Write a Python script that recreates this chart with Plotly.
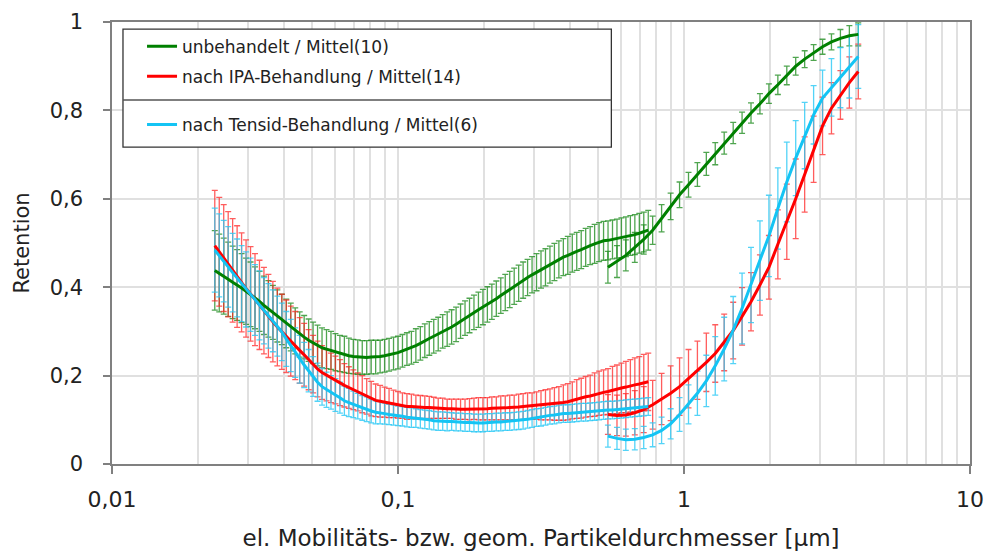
import plotly.graph_objects as go

# Mobility-diameter channels (SMPS, 64 per decade) in µm
x_smps = [
    0.022876, 0.023714, 0.024582, 0.025483, 0.026416, 0.027384, 0.028387,
    0.029427, 0.030505, 0.031623, 0.032781, 0.033982, 0.035227, 0.036517, 0.037855, 0.039242, 0.040679,
    0.042170, 0.043714, 0.045316, 0.046976, 0.048697, 0.050481, 0.052330, 0.054247, 0.056234, 0.058294,
    0.060430, 0.062643, 0.064938, 0.067317, 0.069783, 0.072339, 0.074989, 0.077737, 0.080584, 0.083536,
    0.086596, 0.089769, 0.093057, 0.096466, 0.10000, 0.10366, 0.10746, 0.11140, 0.11548, 0.11971,
    0.12409, 0.12864, 0.13335, 0.13824, 0.14330, 0.14855, 0.15399, 0.15963, 0.16548, 0.17154,
    0.17783, 0.18434, 0.19110, 0.19810, 0.20535, 0.21288, 0.22067, 0.22876, 0.23714, 0.24582,
    0.25483, 0.26416, 0.27384, 0.28387, 0.29427, 0.30505, 0.31623, 0.32781, 0.33982, 0.35227,
    0.36517, 0.37855, 0.39242, 0.40679, 0.42170, 0.43714, 0.45316, 0.46976, 0.48697, 0.50481,
    0.52330, 0.54247, 0.56234, 0.58294, 0.60430, 0.62643, 0.64938, 0.67317, 0.69783, 0.72339,
    0.74989,
]

# Geometric-diameter channels (APS) in µm
x_aps = [
    0.542, 0.583, 0.626, 0.673, 0.723, 0.777, 0.835, 0.898, 0.965, 1.037,
    1.114, 1.197, 1.286, 1.382, 1.486, 1.596, 1.715, 1.843, 1.981, 2.129,
    2.288, 2.458, 2.642, 2.839, 3.051, 3.278, 3.523, 3.786, 4.068,
]

# unbehandelt / Mittel(10)
green_smps = [
    .438, .432, .425, .418, .411, .405, .398,
    .391, .384, .376, .368, .359, .351, .343, .335, .327, .318,
    .310, .301, .293, .287, .280, .274, .268, .263, .260, .257,
    .253, .250, .248, .245, .243, .242, .241, .241, .242, .242,
    .243, .245, .247, .250, .252, .256, .260, .263, .268, .273,
    .279, .284, .289, .294, .300, .305, .310, .316, .323, .330,
    .336, .343, .349, .355, .361, .367, .374, .381, .388, .395,
    .402, .409, .416, .422, .428, .434, .440, .445, .451, .457,
    .463, .468, .472, .477, .481, .485, .490, .494, .498, .502,
    .505, .506, .508, .510, .512, .514, .517, .519, .522, .525,
    .529,
]
green_smps_err = [
    .090, .088, .086, .084, .082, .080, .078,
    .075, .073, .070, .068, .066, .064, .061, .059, .057, .055,
    .054, .052, .051, .049, .048, .047, .046, .045, .044, .043,
    .042, .041, .041, .040, .039, .039, .038, .038, .038, .038,
    .037, .037, .037, .037, .037, .037, .037, .037, .038, .038,
    .038, .038, .038, .038, .038, .039, .039, .039, .039, .039,
    .039, .039, .040, .040, .040, .040, .040, .040, .041, .041,
    .041, .041, .041, .041, .041, .042, .042, .042, .042, .042,
    .042, .042, .043, .043, .043, .043, .043, .043, .044, .044,
    .044, .044, .044, .044, .045, .045, .045, .045, .045, .045,
    .045,
]
green_aps = [
    .445, .458, .472, .490, .508, .529, .556, .583, .609, .632,
    .655, .679, .702, .726, .749, .772, .794, .815, .838, .858,
    .879, .900, .916, .931, .944, .955, .963, .969, .972,
]
green_aps_err = [
    .036, .036, .035, .034, .033, .032, .031, .030, .029, .028,
    .027, .026, .025, .025, .024, .024, .023, .023, .022, .022,
    .021, .020, .019, .018, .017, .018, .020, .023, .026,
]

# nach IPA-Behandlung / Mittel(14)
red_smps = [
    .494, .480, .466, .452, .438, .424, .411,
    .397, .385, .372, .360, .347, .335, .322, .310, .299, .289,
    .278, .268, .257, .247, .236, .226, .215, .207, .201, .195,
    .190, .184, .178, .173, .168, .163, .158, .153, .148, .144,
    .142, .140, .138, .136, .134, .132, .130, .130, .129, .129,
    .128, .128, .127, .126, .126, .125, .125, .124, .124, .124,
    .124, .125, .125, .125, .125, .126, .126, .127, .127, .128,
    .128, .129, .130, .131, .131, .132, .133, .134, .135, .136,
    .137, .139, .141, .144, .147, .149, .152, .154, .157, .160,
    .162, .164, .167, .169, .172, .174, .177, .179, .181, .184,
    .186,
]
red_smps_err = [
    .125, .123, .121, .119, .117, .115, .112,
    .110, .107, .104, .101, .098, .094, .091, .088, .085, .082,
    .079, .077, .074, .071, .068, .065, .063, .061, .058, .056,
    .054, .052, .049, .047, .045, .043, .042, .040, .039, .037,
    .036, .034, .033, .031, .030, .029, .029, .028, .027, .026,
    .026, .025, .024, .023, .023, .022, .022, .023, .023, .023,
    .024, .024, .025, .025, .025, .026, .026, .027, .027, .028,
    .028, .029, .029, .030, .030, .031, .033, .034, .035, .037,
    .038, .040, .041, .042, .044, .045, .046, .047, .049, .050,
    .051, .052, .054, .055, .056, .058, .059, .061, .062, .064,
    .065,
]
red_aps = [
    .112, .110, .111, .116, .123, .134, .147, .160, .175, .193,
    .212, .230, .250, .275, .302, .334, .367, .405, .445, .497,
    .548, .600, .655, .712, .765, .805, .835, .863, .888,
]
red_aps_err = [
    .045, .046, .048, .050, .052, .055, .058, .062, .065, .066,
    .066, .066, .065, .064, .064, .065, .066, .068, .072, .078,
    .085, .090, .085, .075, .065, .058, .055, .058, .062,
]

# nach Tensid-Behandlung / Mittel(6)
cyan_smps = [
    .484, .472, .459, .446, .433, .421, .408,
    .395, .383, .371, .359, .347, .335, .324, .312, .299, .283,
    .268, .252, .237, .224, .211, .198, .185, .175, .168, .162,
    .156, .150, .143, .139, .135, .131, .127, .124, .120, .117,
    .116, .114, .112, .111, .109, .108, .106, .105, .104, .102,
    .101, .100, .098, .097, .097, .096, .096, .095, .095, .094,
    .094, .093, .093, .093, .094, .094, .095, .095, .096, .096,
    .097, .098, .099, .101, .103, .105, .106, .108, .110, .111,
    .113, .114, .114, .115, .116, .117, .117, .118, .119, .120,
    .121, .122, .122, .123, .124, .125, .126, .127, .128, .129,
    .130,
]
cyan_smps_err = [
    .095, .094, .092, .091, .089, .088, .086,
    .085, .083, .080, .078, .075, .073, .070, .068, .065, .062,
    .059, .056, .054, .051, .048, .045, .043, .042, .040, .038,
    .037, .035, .033, .032, .030, .029, .028, .028, .027, .026,
    .025, .024, .023, .023, .022, .022, .022, .022, .021, .021,
    .021, .021, .021, .021, .021, .021, .020, .020, .020, .020,
    .020, .020, .020, .020, .020, .020, .020, .020, .020, .020,
    .020, .020, .020, .020, .020, .020, .020, .020, .020, .020,
    .020, .020, .020, .020, .020, .020, .020, .020, .020, .020,
    .020, .020, .020, .020, .020, .020, .020, .020, .020, .020,
    .020,
]
cyan_aps = [
    .063, .058, .055, .056, .060, .066, .076, .091, .112, .135,
    .160, .188, .222, .260, .303, .352, .405, .460, .516, .578,
    .638, .692, .743, .790, .828, .852, .874, .898, .922,
]
cyan_aps_err = [
    .025, .025, .024, .024, .025, .027, .030, .034, .038, .044,
    .050, .058, .066, .072, .076, .080, .085, .090, .092, .092,
    .090, .085, .075, .066, .063, .065, .068, .070, .072,
]

series = [
    dict(name="unbehandelt / Mittel(10)", color="#008000", bar="rgba(20,135,20,0.75)",
         smps=(green_smps, green_smps_err), aps=(green_aps, green_aps_err), legend="legend"),
    dict(name="nach IPA-Behandlung / Mittel(14)", color="#ff0000", bar="rgba(255,30,30,0.72)",
         smps=(red_smps, red_smps_err), aps=(red_aps, red_aps_err), legend="legend"),
    dict(name="nach Tensid-Behandlung / Mittel(6)", color="#14c4f4", bar="rgba(40,200,245,0.8)",
         smps=(cyan_smps, cyan_smps_err), aps=(cyan_aps, cyan_aps_err), legend="legend2"),
]

FONT = "DejaVu Sans"
fig = go.Figure()

# error bars first so that the mean curves stay on top
for s in series:
    for xs, (ys, es) in ((x_smps, s["smps"]), (x_aps, s["aps"])):
        fig.add_trace(go.Scatter(
            x=xs, y=ys, mode="markers",
            marker=dict(size=1, opacity=0, color=s["color"]),
            error_y=dict(type="data", array=es, visible=True, color=s["bar"],
                         thickness=1.3, width=3),
            showlegend=False, hoverinfo="skip",
        ))

for i, s in enumerate(series):
    for k, (xs, ys) in enumerate(((x_smps, s["smps"][0]), (x_aps, s["aps"][0]))):
        fig.add_trace(go.Scatter(
            x=xs, y=ys, mode="lines",
            line=dict(color=s["color"], width=3),
            name=s["name"], legend=s["legend"], legendgroup=f"g{i}",
            showlegend=(k == 0),
        ))

minor_vals = [k * 10.0 ** e for e in (-2, -1, 0) for k in range(2, 10)]
grid = "#e0e0e0"
axis_col = "#808080"
txt = "#222222"

# legend frame with its separator line (paper coords of the plot area)
fig.add_shape(type="rect", xref="paper", yref="paper", x0=0.0128, x1=0.582, y0=0.717, y1=0.984,
              line=dict(color="#333333", width=1.3), fillcolor="white", layer="above")
fig.add_shape(type="line", xref="paper", yref="paper", x0=0.0128, x1=0.582, y0=0.8235, y1=0.8235,
              line=dict(color="#555555", width=1.3), layer="above")

fig.update_layout(
    width=987, height=551,
    margin=dict(l=112, r=17, t=22, b=87),
    plot_bgcolor="white", paper_bgcolor="white",
    separators=", ",
    font=dict(family=FONT, color=txt),
    legend=dict(x=0.035, y=0.985, xanchor="left", yanchor="top", bgcolor="rgba(0,0,0,0)",
                borderwidth=0, font=dict(family=FONT, size=17, color=txt), tracegroupgap=5),
    legend2=dict(x=0.035, y=0.808, xanchor="left", yanchor="top", bgcolor="rgba(0,0,0,0)",
                 borderwidth=0, font=dict(family=FONT, size=17, color=txt)),
    xaxis=dict(
        type="log", range=[-2, 1], automargin=False,
        tickvals=[0.01, 0.1, 1, 10], ticktext=["0,01", "0,1", "1", "10"],
        ticks="outside", ticklen=8, tickwidth=1.5, tickcolor=axis_col,
        ticklabelstandoff=7,
        showline=True, linecolor=axis_col, linewidth=1.5, mirror=True,
        showgrid=True, gridcolor=grid, gridwidth=1.5,
        minor=dict(tickvals=minor_vals, showgrid=True, gridcolor=grid, gridwidth=1.5, ticks=""),
        tickfont=dict(family=FONT, size=22, color=txt),
        title=dict(text="el. Mobilitäts- bzw. geom. Partikeldurchmesser [µm]",
                   font=dict(family=FONT, size=23, color=txt), standoff=20),
        zeroline=False,
    ),
    yaxis=dict(
        range=[0, 1], tick0=0, dtick=0.2, automargin=False,
        ticks="outside", ticklen=7, tickwidth=1.5, tickcolor=axis_col,
        ticklabelstandoff=16,
        showline=True, linecolor=axis_col, linewidth=1.5, mirror=True,
        showgrid=True, gridcolor=grid, gridwidth=1.5,
        tickfont=dict(family=FONT, size=21, color=txt),
        title=dict(text="Retention", font=dict(family=FONT, size=21, color=txt), standoff=14),
        zeroline=False,
    ),
)

fig.write_html("out.html")
